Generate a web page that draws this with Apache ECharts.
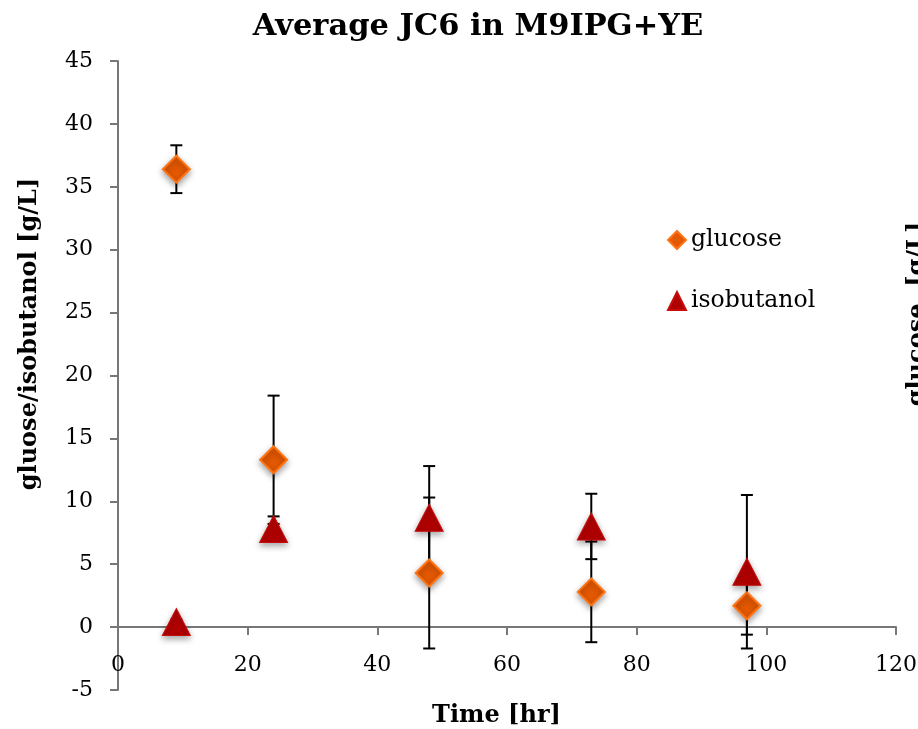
<!DOCTYPE html>
<html>
<head>
<meta charset="utf-8">
<script src="https://cdn.jsdelivr.net/npm/echarts@6/dist/echarts.min.js"></script>
<style>
  html, body { margin: 0; padding: 0; background: #fff; }
  #main { width: 918px; height: 729px; }
</style>
</head>
<body>
<div id="main"></div>
<script>
// data
const times = [9, 24, 48, 73, 97];
const glucose = [36.4, 13.3, 4.3, 2.8, 1.7];
const glucoseErr = [1.9, 5.1, 6.0, 4.0, 2.3];
const isobutanol = [0.4, 7.8, 8.7, 8.0, 4.4];
const isobutanolErr = [0.2, 1.0, 4.1, 2.6, 6.1];

const fontFam = 'DejaVu Serif';

// [x, low, high] for the custom error bar series
function errData(vals, errs) {
  return times.map((t, i) => [t, vals[i] - errs[i], vals[i] + errs[i]]);
}

function renderErr(params, api) {
  const x = api.value(0);
  const lo = api.coord([x, api.value(1)]);
  const hi = api.coord([x, api.value(2)]);
  const cap = 6;
  const st = { stroke: '#000', lineWidth: 2 };
  return {
    type: 'group',
    children: [
      { type: 'line', shape: { x1: lo[0], y1: lo[1], x2: hi[0], y2: hi[1] }, style: st },
      { type: 'line', shape: { x1: hi[0] - cap, y1: hi[1], x2: hi[0] + cap, y2: hi[1] }, style: st },
      { type: 'line', shape: { x1: lo[0] - cap, y1: lo[1], x2: lo[0] + cap, y2: lo[1] }, style: st }
    ]
  };
}

const chart = echarts.init(document.getElementById('main'));

const option = {
  backgroundColor: '#fff',
  animation: false,
  title: {
    text: 'Average JC6 in M9IPG+YE',
    left: 473,
    textAlign: 'center',
    top: 7,
    textStyle: { fontFamily: fontFam, fontWeight: 'bold', fontSize: 30.5, color: '#000' }
  },
  grid: { left: 118, right: 22, top: 61, bottom: 39, containLabel: false, outerBoundsMode: 'none' },
  legend: {
    orient: 'vertical',
    left: 667,
    top: 228,
    padding: 0,
    itemGap: 37,
    itemWidth: 18,
    itemHeight: 18,
    textStyle: { fontFamily: fontFam, fontSize: 23.5, lineHeight: 24, color: '#000' },
    data: [
      { name: 'glucose', icon: 'diamond' },
      { name: 'isobutanol', icon: 'triangle' }
    ]
  },
  xAxis: {
    type: 'value',
    min: 0,
    max: 120,
    interval: 20,
    name: 'Time [hr]',
    nameLocation: 'middle',
    nameGap: 14,
    nameTextStyle: { fontFamily: fontFam, fontWeight: 'bold', fontSize: 24, color: '#000', padding: [0, 21, 0, 0] },
    axisLine: { onZero: true, lineStyle: { color: '#777', width: 2 } },
    axisTick: { show: true, length: 8, lineStyle: { color: '#777', width: 2 } },
    axisLabel: { margin: -36, fontFamily: fontFam, fontSize: 22, color: '#000' },
    splitLine: { show: false }
  },
  yAxis: {
    type: 'value',
    min: -5,
    max: 45,
    interval: 5,
    axisLine: { show: true, lineStyle: { color: '#777', width: 2 } },
    axisTick: { show: true, length: 8, lineStyle: { color: '#777', width: 2 } },
    axisLabel: { margin: 25, fontFamily: fontFam, fontSize: 22, color: '#000' },
    splitLine: { show: false }
  },
  graphic: [
    {
      type: 'text',
      x: 30,
      y: 334,
      rotation: Math.PI / 2,
      style: {
        text: 'gluose/isobutanol [g/L]',
        fontFamily: fontFam, fontWeight: 'bold', fontSize: 24, fill: '#000',
        align: 'center', verticalAlign: 'middle'
      }
    },
    {
      type: 'text',
      x: 918,
      y: 314,
      rotation: Math.PI / 2,
      style: {
        text: 'glucose  [g/L]',
        fontFamily: fontFam, fontWeight: 'bold', fontSize: 24, fill: '#000',
        align: 'center', verticalAlign: 'middle'
      }
    }
  ],
  series: [
    {
      name: 'glucoseErr',
      type: 'custom',
      renderItem: renderErr,
      data: errData(glucose, glucoseErr),
      z: 1
    },
    {
      name: 'isobutanolErr',
      type: 'custom',
      renderItem: renderErr,
      data: errData(isobutanol, isobutanolErr),
      z: 1
    },
    {
      name: 'glucose',
      type: 'scatter',
      symbol: 'diamond',
      symbolSize: [27, 27],
      data: times.map((t, i) => [t, glucose[i]]),
      itemStyle: {
        opacity: 1,
        color: '#e45800',
        borderColor: '#ff7414',
        borderWidth: 2,
        shadowBlur: 6,
        shadowColor: 'rgba(0,0,0,0.35)',
        shadowOffsetY: 3
      },
      z: 3
    },
    {
      name: 'isobutanol',
      type: 'scatter',
      symbol: 'triangle',
      symbolSize: [28, 27],
      data: times.map((t, i) => [t, isobutanol[i]]),
      itemStyle: {
        opacity: 1,
        color: '#b00000',
        borderColor: '#c80c0c',
        borderWidth: 1,
        shadowBlur: 6,
        shadowColor: 'rgba(0,0,0,0.35)',
        shadowOffsetY: 3
      },
      z: 4
    }
  ]
};

chart.setOption(option);
</script>
</body>
</html>
